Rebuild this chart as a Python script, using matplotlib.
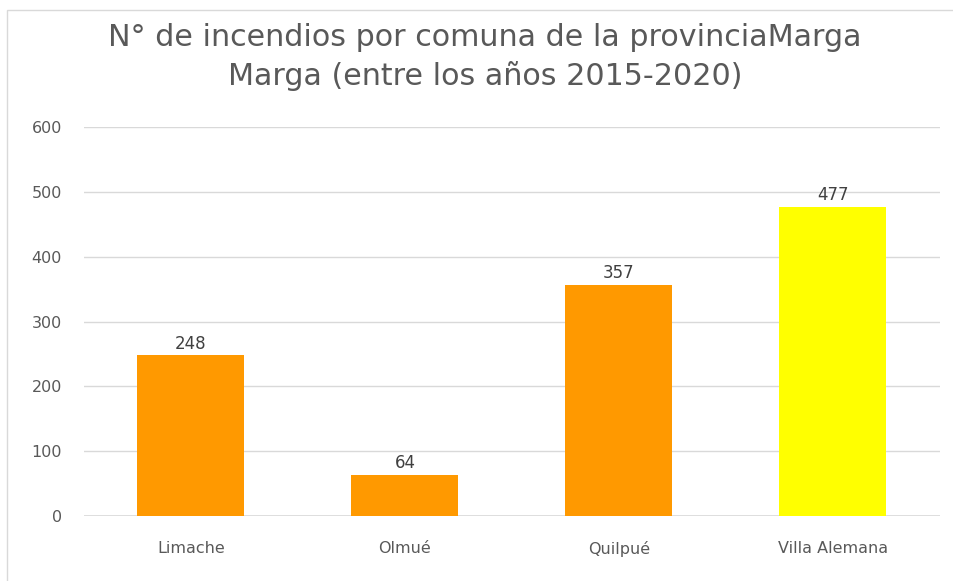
import matplotlib
matplotlib.use("Agg")
import matplotlib.pyplot as plt
from matplotlib import font_manager

comunas = ["Limache", "Olmué", "Quilpué", "Villa Alemana"]
incendios = [248, 64, 357, 477]
bar_colors = ["#FF9900", "#FF9900", "#FF9900", "#FFFF00"]
yticks = [0, 100, 200, 300, 400, 500, 600]
title = "N° de incendios por comuna de la provinciaMarga\nMarga (entre los años 2015-2020)"

names = {f.name for f in font_manager.fontManager.ttflist}
fam = "Liberation Sans Narrow" if "Liberation Sans Narrow" in names else "DejaVu Sans"
plt.rcParams["font.family"] = [fam, "DejaVu Sans"]

fig = plt.figure(figsize=(9.54, 5.81), dpi=100)
fig.patches.append(plt.Rectangle((7/954, -0.01), 1.02, 1 - 10/581 + 0.01,
                                 transform=fig.transFigure, fill=False,
                                 edgecolor="#D9D9D9", linewidth=1))
ax = fig.add_axes([84/954, 1 - 516/581, (940 - 84)/954, (516 - 127)/581])

x = range(len(comunas))
bars = ax.bar(x, incendios, width=0.5, color=bar_colors, zorder=3)
for xi, v in zip(x, incendios):
    ax.text(xi, v + 4, str(v), ha="center", va="bottom", fontsize=12, color="#404040")

ax.set_xlim(-0.5, len(comunas) - 0.5)
ax.set_ylim(0, 600)
ax.set_yticks(yticks)
ax.set_yticklabels([str(t) for t in yticks])
ax.set_xticks(list(x))
ax.set_xticklabels(comunas)
ax.tick_params(axis="both", length=0, labelsize=11.5, colors="#595959")
ax.tick_params(axis="y", pad=16)
ax.tick_params(axis="x", pad=18)
ax.grid(axis="y", color="#D9D9D9", linewidth=1, zorder=0)
for s in ax.spines.values():
    s.set_visible(False)
ax.axhline(0, color="#D9D9D9", linewidth=1.2, zorder=2)

fig.text(485/954, 1 - 57/581, title, ha="center", va="center", fontsize=21.7,
         color="#595959", linespacing=1.4)

fig.savefig("out.png", dpi=100)
